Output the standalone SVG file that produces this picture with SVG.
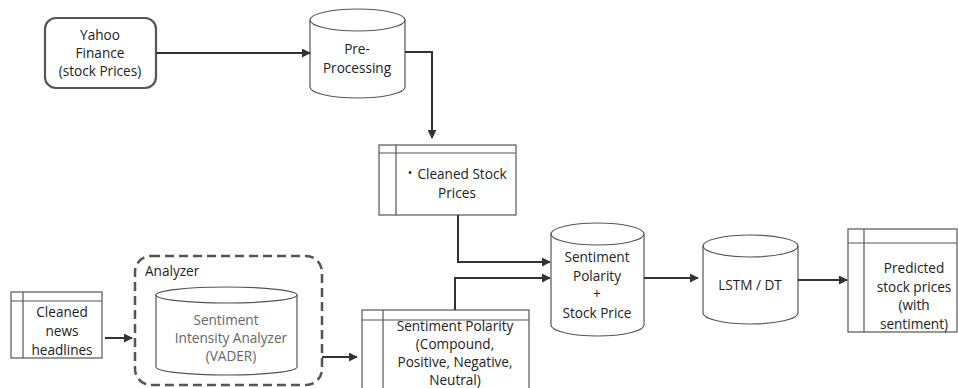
<svg xmlns="http://www.w3.org/2000/svg" width="958" height="388" viewBox="0 0 958 388">
<defs>
<marker id="ah" viewBox="0 0 10 10" refX="9" refY="5" markerWidth="4.5" markerHeight="4.5" orient="auto" markerUnits="strokeWidth">
<path d="M0,0 L10,5 L0,10 z" fill="#333"/>
</marker>
</defs>
<style>
.t{font-family:"Open Sans","Liberation Sans",Arial,sans-serif;font-size:13.6px;fill:#222;text-anchor:middle}
.g{fill:#666}
.s{fill:#fff;stroke:#555;stroke-width:1.2}
.c{fill:none;stroke:#333;stroke-width:2;marker-end:url(#ah)}
.l{fill:none;stroke:#555;stroke-width:1.2}
</style>
<rect width="958" height="388" fill="#fff"/>

<g id="yahoo">
<rect x="45" y="18" width="111" height="70" rx="11" fill="#fff" stroke="#555" stroke-width="2.2"/>
<text class="t" x="100" y="40">Yahoo</text>
<text class="t" x="100" y="58">Finance</text>
<text class="t" x="100" y="76">(stock Prices)</text>
</g>

<g id="preprocessing">
<path class="s" d="M310,20 A47.5,11 0 0 1 405,20 V87 A47.5,11 0 0 1 310,87 Z"/>
<path class="l" d="M310,20 A47.5,11 0 0 0 405,20"/>
<text class="t" x="357" y="54">Pre-</text>
<text class="t" x="357" y="73">Processing</text>
</g>

<g id="cleaned-stock">
<rect class="s" x="379" y="145" width="137" height="70"/>
<path class="l" d="M379,153 H516 M396,145 V215"/>
<text class="t" x="410" y="177" style="font-size:12px">•</text>
<text class="t" x="462" y="179">Cleaned Stock</text>
<text class="t" x="457" y="198">Prices</text>
</g>

<g id="cleaned-news">
<rect class="s" x="11" y="292" width="91" height="66"/>
<path class="l" d="M11,301 H102 M23,292 V358"/>
<text class="t" x="62" y="317">Cleaned</text>
<text class="t" x="62" y="336">news</text>
<text class="t" x="62" y="355">headlines</text>
</g>

<g id="analyzer">
<rect x="135" y="256" width="187" height="129" rx="16" fill="none" stroke="#555" stroke-width="2.5" stroke-dasharray="9,5"/>
<text class="t" x="145" y="276" style="text-anchor:start">Analyzer</text>
<path class="s" d="M156,295 A70.5,8 0 0 1 297,295 V367 A70.5,8 0 0 1 156,367 Z"/>
<path class="l" d="M156,295 A70.5,8 0 0 0 297,295"/>
<text class="t g" x="226" y="325">Sentiment</text>
<text class="t g" x="231" y="343">Intensity Analyzer</text>
<text class="t g" x="231" y="361">(VADER)</text>
</g>

<g id="sentiment-polarity">
<rect class="s" x="362" y="310" width="167" height="90"/>
<path class="l" d="M362,320 H529 M383,310 V400"/>
<text class="t" x="455" y="331">Sentiment Polarity</text>
<text class="t" x="455" y="349">(Compound,</text>
<text class="t" x="455" y="367">Positive, Negative,</text>
<text class="t" x="455" y="385">Neutral)</text>
</g>

<g id="combined">
<path class="s" d="M551,234 A46.5,11 0 0 1 644,234 V325 A46.5,11 0 0 1 551,325 Z"/>
<path class="l" d="M551,234 A46.5,11 0 0 0 644,234"/>
<text class="t" x="597" y="262">Sentiment</text>
<text class="t" x="597" y="281">Polarity</text>
<text class="t" x="597" y="299">+</text>
<text class="t" x="597" y="318">Stock Price</text>
</g>

<g id="lstm">
<path class="s" d="M703,246 A47.5,11 0 0 1 798,246 V313 A47.5,11 0 0 1 703,313 Z"/>
<path class="l" d="M703,246 A47.5,11 0 0 0 798,246"/>
<text class="t" x="750" y="290">LSTM / DT</text>
</g>

<g id="predicted">
<rect class="s" x="848" y="229" width="109" height="103"/>
<path class="l" d="M848,243 H957 M864,229 V332"/>
<text class="t" x="914" y="273">Predicted</text>
<text class="t" x="914" y="292">stock prices</text>
<text class="t" x="914" y="310">(with</text>
<text class="t" x="914" y="329">sentiment)</text>
</g>

<g id="connectors">
<path class="c" d="M156,53 H310"/>
<path class="c" d="M405,52 H432 V138"/>
<path class="c" d="M458,215 V262 H550"/>
<path class="c" d="M455,310 V278 H550"/>
<path class="c" d="M105,338 H132"/>
<path class="c" d="M322,357 H357"/>
<path class="c" d="M644,278 H698"/>
<path class="c" d="M798,280 H847"/>
</g>
</svg>
